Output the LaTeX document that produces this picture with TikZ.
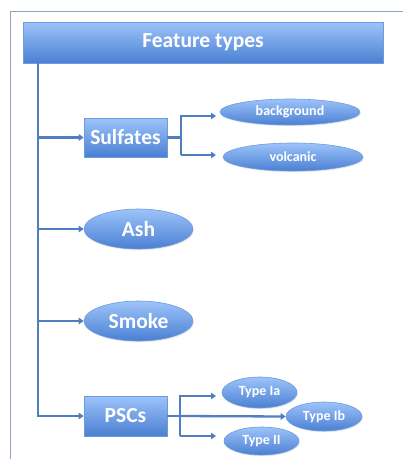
\documentclass[tikz,border=0pt]{standalone}
\usepackage{fontspec}
\setmainfont{Carlito}
\usetikzlibrary{arrows.meta,shadows,shapes.geometric}

\definecolor{boxtop}{HTML}{9DC3FA}
\definecolor{boxbot}{HTML}{4A80D2}
\definecolor{boxedge}{HTML}{6E9BDB}
\definecolor{linkblue}{HTML}{4F7FC0}
\definecolor{framegray}{HTML}{8DA2C0}

\tikzset{
  fill3d/.style={top color=boxtop, bottom color=boxbot, draw=boxedge, line width=0.6pt,
    drop shadow={shadow xshift=0.8pt, shadow yshift=-1.2pt, opacity=0.18},
    text=white, font=\bfseries},
  rectbox/.style={fill3d, rectangle, inner sep=0pt},
  ovalbox/.style={fill3d, ellipse, inner sep=0pt},
  bigtext/.style={font=\bfseries\fontsize{21.5}{25}\selectfont},
  smalltext/.style={font=\bfseries\fontsize{14}{16}\selectfont},
  link/.style={draw=linkblue, line width=2.3pt},
  linkarrow/.style={link, -{Triangle[length=5pt,width=6.5pt]}},
}

\begin{document}
\begin{tikzpicture}[x=1pt,y=-1pt]
  \useasboundingbox (0,0) rectangle (403,459);
  % page frame
  \draw[framegray, line width=0.7pt] (10,459) -- (10,11) -- (403,11);

  % header
  \node[rectbox, bigtext, minimum width=360pt, minimum height=41pt]
    (head) at (203,42.5) {Feature types};

  % first level
  \node[rectbox, bigtext, minimum width=83pt, minimum height=39pt]
    (sulf) at (125.5,137.5) {Sulfates};
  \node[ovalbox, bigtext, minimum width=109pt, minimum height=40pt]
    (ash) at (138.5,229) {Ash};
  \node[ovalbox, bigtext, minimum width=109pt, minimum height=40pt]
    (smoke) at (138.5,321) {Smoke};
  \node[rectbox, bigtext, minimum width=83pt, minimum height=40pt]
    (pscs) at (125.5,416) {PSCs};

  % second level
  \node[ovalbox, smalltext, minimum width=140pt, minimum height=26pt]
    (bg) at (290,112) {background};
  \node[ovalbox, smalltext, minimum width=140pt, minimum height=28pt]
    (volc) at (293,157) {volcanic};
  \node[ovalbox, smalltext, minimum width=75pt, minimum height=31pt]
    (t1a) at (259.5,392.5) {Type Ia};
  \node[ovalbox, smalltext, minimum width=76pt, minimum height=29pt]
    (t1b) at (324,416.5) {Type Ib};
  \node[ovalbox, smalltext, minimum width=75pt, minimum height=28pt]
    (t2) at (261.5,441) {Type II};

  % trunk from the header
  \coordinate (trunktop) at (38,63);
  \coordinate (trunkbot) at (38,416);
  \draw[link] (trunktop) -- (trunkbot);
  \draw[linkarrow] (trunktop |- sulf) -- (sulf.west);
  \draw[linkarrow] (trunktop |- ash) -- (ash.west);
  \draw[linkarrow] (trunktop |- smoke) -- (smoke.west);
  \draw[linkarrow] ([xshift=-1.15pt]trunkbot) -- (pscs.west);

  % sulfates branch
  \coordinate (sfork) at (181,137.5);
  \coordinate (sup1) at (181,116);
  \coordinate (sdn1) at (181,155);
  \coordinate (sbgend) at (216,116);
  \coordinate (svoend) at (216,155);
  \draw[link] (sulf.east) -- (sfork);
  \draw[linkarrow] (sdn1) -- (sup1) -- (sbgend);
  \draw[linkarrow] (sdn1) -- (svoend);

  % PSC branch
  \coordinate (pfork) at (180,416);
  \coordinate (pup1) at (180,396);
  \coordinate (pdn1) at (180,436);
  \coordinate (paend) at (216,396);
  \coordinate (piiend) at (216,436);
  \draw[link] (pscs.east) -- (pfork);
  \draw[linkarrow] (pdn1) -- (pup1) -- (paend);
  \draw[linkarrow] (pdn1) -- (piiend);
  \draw[linkarrow] (pfork) -- (t1b.west);
\end{tikzpicture}
\end{document}
